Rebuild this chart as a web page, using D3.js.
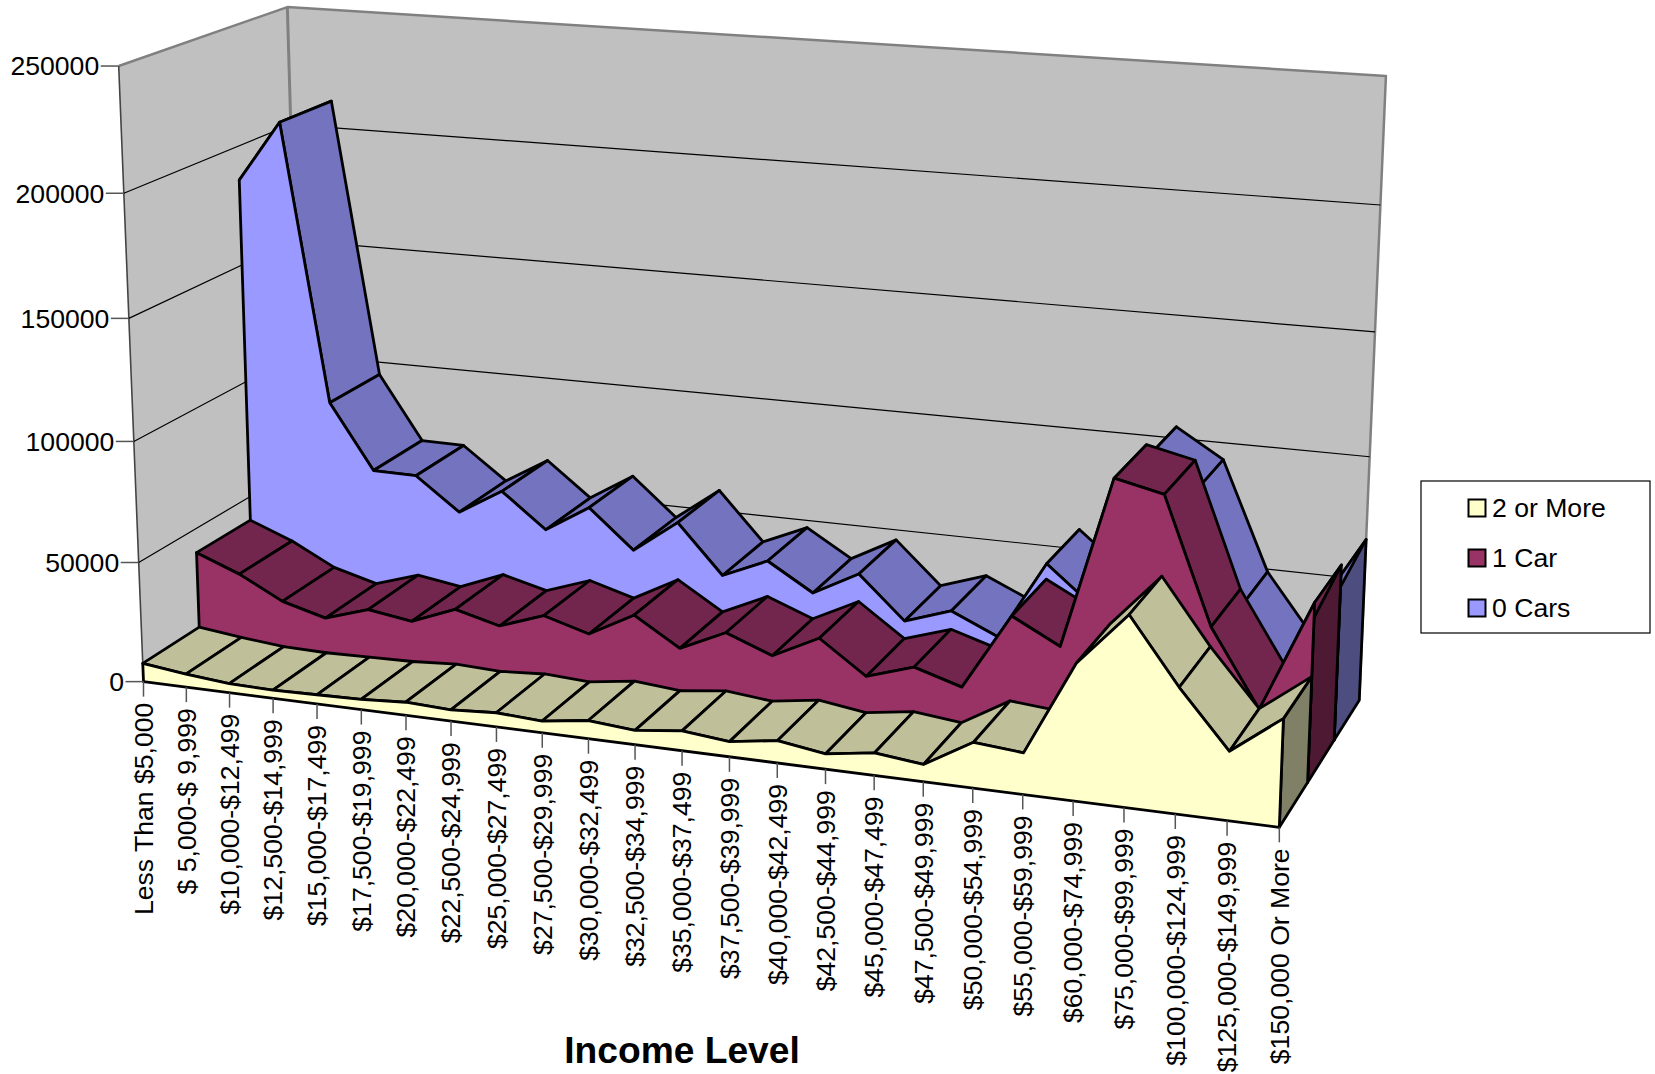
<!DOCTYPE html>
<html>
<head>
<meta charset="utf-8">
<style>
  html, body { margin: 0; padding: 0; background: #fff; }
  svg { display: block; }
  text { font-family: "Liberation Sans", Arial, sans-serif; fill: #000; }
</style>
<script src="https://cdnjs.cloudflare.com/ajax/libs/d3/7.8.5/d3.min.js"></script>
</head>
<body>
<svg id="chart" width="1655" height="1074"></svg>
<script>
// Households by income level and number of vehicles
const categories = [
  "Less Than $5,000", "$ 5,000-$ 9,999", "$10,000-$12,499", "$12,500-$14,999",
  "$15,000-$17,499", "$17,500-$19,999", "$20,000-$22,499", "$22,500-$24,999",
  "$25,000-$27,499", "$27,500-$29,999", "$30,000-$32,499", "$32,500-$34,999",
  "$35,000-$37,499", "$37,500-$39,999", "$40,000-$42,499", "$42,500-$44,999",
  "$45,000-$47,499", "$47,500-$49,999", "$50,000-$54,999", "$55,000-$59,999",
  "$60,000-$74,999", "$75,000-$99,999", "$100,000-$124,999", "$125,000-$149,999",
  "$150,000 Or More"
];
const twoOrMore = [7700,5500,3800,3400,3800,4200,5400,4600,5800,4800,7400,5800,8000,6100,8900,6100,8900,6800,18000,16300,53400,74200,48800,26700,41600];
const oneCar = [39800,32700,23200,18200,24000,21200,28500,23700,30200,24800,34800,23300,32000,24800,34200,20900,27000,21200,52000,42100,110300,106000,56500,26400,70400];
const zeroCars = [185800,211300,94600,67300,67000,53300,64200,49800,61200,45200,58900,38700,46900,35600,45700,28200,34600,26100,58300,42800,104700,93100,48900,24000,66400];
const seriesNames = ["2 or More", "1 Car", "0 Cars"];
const seriesValues = [twoOrMore, oneCar, zeroCars];
const seriesFront = ["#FFFFCC", "#993366", "#9999FF"];
const seriesTop = ["#BFBF99", "#73264D", "#7373BF"];
const seriesEnd = ["#808066", "#4D1933", "#4D4D80"];
const valueTicks = [0, 50000, 100000, 150000, 200000, 250000];

// Chart box corners on the page: [across, depth, up] -> [px, py]
const cameraAnchors = [
  [[0,0,0],[143.5,682]], [[1,0,0],[1279,827.5]], [[1,1,0],[1359.5,700]], [[0,1,0],[304,577]],
  [[0,0,1],[119,65.5]], [[0,1,1],[287,7.5]], [[1,1,1],[1386,76]]
];

// Least-squares fit of a 3x4 perspective camera to the anchors
function fitCamera(anchors) {
  const rows = [], rhs = [];
  for (const [[a,b,c],[px,py]] of anchors) {
    const x = px/1000, y = py/1000;
    rows.push([a,b,c,1,0,0,0,0,-x*a,-x*b,-x*c]); rhs.push(x);
    rows.push([0,0,0,0,a,b,c,1,-y*a,-y*b,-y*c]); rhs.push(y);
  }
  const n = 11;
  const M = d3.range(n).map(i => d3.range(n + 1).map(j =>
    d3.sum(rows, (r, k) => r[i] * (j < n ? r[j] : rhs[k]))));
  for (let c = 0; c < n; c++) {
    let p = c;
    for (let r = c + 1; r < n; r++) if (Math.abs(M[r][c]) > Math.abs(M[p][c])) p = r;
    [M[c], M[p]] = [M[p], M[c]];
    for (let r = 0; r < n; r++) if (r !== c) {
      const f = M[r][c] / M[c][c];
      for (let j = c; j <= n; j++) M[r][j] -= f * M[c][j];
    }
  }
  return M.map((r, i) => r[n] / r[i]);
}
const cam = fitCamera(cameraAnchors);
function project(a, b, c) {
  const w = cam[8]*a + cam[9]*b + cam[10]*c + 1;
  return [1000*(cam[0]*a + cam[1]*b + cam[2]*c + cam[3]) / w,
          1000*(cam[4]*a + cam[5]*b + cam[6]*c + cam[7]) / w];
}

const across = d3.scalePoint().domain(categories).range([0, 1]);
const depth = d3.scaleLinear().domain([0, seriesNames.length]).range([0, 1]);
const up = d3.scaleLinear().domain([0, 250000]).range([0, 1]);
const pt = (cat, d, v) => project(across(cat), depth(d), up(v));
const path = d3.line();

const svg = d3.select("#chart");
const closed = pts => path(pts) + "Z";

// Side and back walls, with the floor beneath them
const walls = svg.append("g");
walls.append("path").attr("d", closed([[0,0,0],[1,0,0],[1,1,0],[0,1,0]].map(p => project(...p))))
  .attr("fill", "#C0C0C0");
walls.append("path").attr("d", closed([[0,0,0],[0,1,0],[0,1,1],[0,0,1]].map(p => project(...p))))
  .attr("fill", "#C0C0C0");
walls.append("path").attr("d", closed([[0,1,0],[1,1,0],[1,1,1],[0,1,1]].map(p => project(...p))))
  .attr("fill", "#C0C0C0");

// Gridlines run along the side wall and then along the back wall
svg.append("g").selectAll("path").data(valueTicks.slice(1, -1)).join("path")
  .attr("d", v => path([project(0,0,up(v)), project(0,1,up(v)), project(1,1,up(v))]))
  .attr("fill", "none").attr("stroke", "#000").attr("stroke-width", 1.2);

// Wall outlines
walls.append("path").attr("d", path([[0,0,1],[0,1,1],[1,1,1],[1,1,0]].map(p => project(...p))))
  .attr("fill", "none").attr("stroke", "#808080").attr("stroke-width", 2.5).attr("stroke-linejoin", "round");
walls.append("path").attr("d", path([[0,1,1],[0,1,0]].map(p => project(...p))))
  .attr("fill", "none").attr("stroke", "#808080").attr("stroke-width", 3);
walls.append("path").attr("d", path([[0,0,1],[0,0,0]].map(p => project(...p))))
  .attr("fill", "none").attr("stroke", "#444").attr("stroke-width", 1.6);

// Ribbons, painted from the back band to the front band
const ribbonStroke = g => g.attr("stroke", "#000").attr("stroke-width", 2.8).attr("stroke-linejoin", "round");
d3.range(seriesNames.length - 1, -1, -1).forEach(s => {
  const vals = seriesValues[s];
  const g = svg.append("g").call(ribbonStroke);
  const last = categories[categories.length - 1];
  const lastVal = vals[vals.length - 1];
  g.append("path").attr("fill", seriesEnd[s])
    .attr("d", closed([pt(last,s,0), pt(last,s+1,0), pt(last,s+1,lastVal), pt(last,s,lastVal)]));
  d3.pairs(categories).forEach(([c0, c1], i) => {
    g.append("path").attr("fill", seriesTop[s])
      .attr("d", closed([pt(c0,s,vals[i]), pt(c1,s,vals[i+1]), pt(c1,s+1,vals[i+1]), pt(c0,s+1,vals[i])]));
  });
  const top = categories.map((c, i) => pt(c, s, vals[i]));
  g.append("path").attr("fill", seriesFront[s])
    .attr("d", closed([pt(categories[0],s,0), ...top, pt(last,s,0)]));
});

// Value axis
const yAxis = svg.append("g");
valueTicks.forEach(v => {
  const [x, y] = project(0, 0, up(v));
  yAxis.append("line").attr("x1", x - 18).attr("x2", x).attr("y1", y).attr("y2", y)
    .attr("stroke", "#555").attr("stroke-width", 1.5);
  yAxis.append("text").attr("x", x - 19.5).attr("y", y).attr("dy", "0.35em")
    .attr("text-anchor", "end").attr("font-size", 26.6).text(v);
});

// Category axis with labels reading upward
const xAxis = svg.append("g");
categories.forEach(c => {
  const [x, y] = pt(c, 0, 0);
  xAxis.append("line").attr("x1", x).attr("x2", x).attr("y1", y).attr("y2", y + 15)
    .attr("stroke", "#555").attr("stroke-width", 1.5);
  xAxis.append("text").attr("transform", `translate(${x},${y + 21}) rotate(-90)`)
    .attr("dy", "0.35em").attr("text-anchor", "end").attr("font-size", 26.6).text(c);
});

svg.append("text").attr("x", 682).attr("y", 1063).attr("text-anchor", "middle")
  .attr("font-size", 37.2).attr("font-weight", "bold").text("Income Level");

// Legend
const legend = svg.append("g");
legend.append("rect").attr("x", 1421).attr("y", 481).attr("width", 229).attr("height", 152)
  .attr("fill", "#fff").attr("stroke", "#000").attr("stroke-width", 1.2);
const legendY = d3.scalePoint().domain(seriesNames).range([508, 608]);
seriesNames.forEach((name, s) => {
  const y = legendY(name);
  legend.append("rect").attr("x", 1468.5).attr("y", y - 8.5).attr("width", 17).attr("height", 17)
    .attr("fill", seriesFront[s]).attr("stroke", "#000").attr("stroke-width", 2);
  legend.append("text").attr("x", 1492).attr("y", y).attr("dy", "0.35em")
    .attr("font-size", 26.6).text(name);
});
</script>
</body>
</html>
